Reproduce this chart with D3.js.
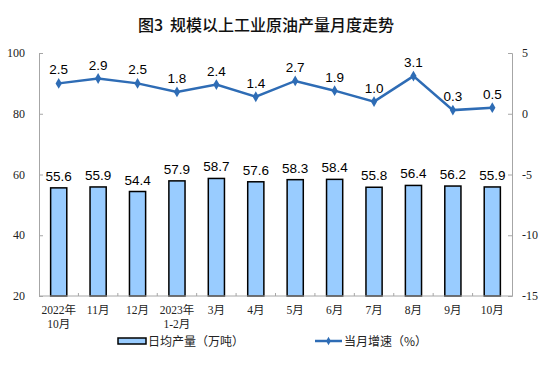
<!DOCTYPE html>
<html>
<head>
<meta charset="utf-8">
<script src="https://cdn.jsdelivr.net/npm/d3@7"></script>
<style>
    body { margin: 0; background: #fff; }
    svg { display: block; }
</style>
</head>
<body>
<div id="chart"></div>
<script>
// categories and values
const categories = [
    ["2022年", "10月"], ["11月"], ["12月"], ["2023年", "1-2月"], ["3月"], ["4月"],
    ["5月"], ["6月"], ["7月"], ["8月"], ["9月"], ["10月"]
];
const daily_output = [55.6, 55.9, 54.4, 57.9, 58.7, 57.6, 58.3, 58.4, 55.8, 56.4, 56.2, 55.9];
const growth_rate = [2.5, 2.9, 2.5, 1.8, 2.4, 1.4, 2.7, 1.9, 1.0, 3.1, 0.3, 0.5];
const left_ticks = [20, 40, 60, 80, 100];
const right_ticks = [-15, -10, -5, 0, 5];

const width = 554, height = 374;
const plot = {left: 39, right: 512, top: 53, bottom: 296};

const line_color = "#2e6cb5";
const bar_color = "#99ccff";
const axis_color = "#a6a6a6";
const cjk = "'Noto Sans CJK SC', sans-serif";

const svg = d3.select("#chart").append("svg")
    .attr("width", width)
    .attr("height", height);

let title = svg.append("text")
    .attr("y", 31)
    .attr("font-family", cjk)
    .attr("font-size", 16)
    .attr("font-weight", 500)
    .attr("fill", "#111");
title.append("tspan").attr("x", 138).text("图3");
title.append("tspan").attr("x", 170).text("规模以上工业原油产量月度走势");

const x = d3.scaleBand()
    .domain(d3.range(categories.length))
    .range([plot.left, plot.right]);

const y_left = d3.scaleLinear().domain([20, 100]).range([plot.bottom, plot.top]);
const y_right = d3.scaleLinear().domain([-15, 5]).range([plot.bottom, plot.top]);

// axes
let left_axis = svg.append("g")
    .attr("transform", "translate(" + plot.left + ",0)")
    .call(d3.axisRight(y_left).tickValues(left_ticks).tickSize(4).tickFormat(""));
let right_axis = svg.append("g")
    .attr("transform", "translate(" + plot.right + ",0)")
    .call(d3.axisLeft(y_right).tickValues(right_ticks).tickSize(4).tickFormat(""));
[left_axis, right_axis].forEach(a => {
    a.selectAll("path, line").attr("stroke", axis_color);
});

svg.append("g").selectAll("text").data(left_ticks).join("text")
    .attr("x", 25)
    .attr("y", d => y_left(d) + 4)
    .attr("text-anchor", "end")
    .attr("font-family", "'Liberation Serif', serif")
    .attr("font-size", 12)
    .attr("fill", "#222")
    .text(d => d);

svg.append("g").selectAll("text").data(right_ticks).join("text")
    .attr("x", 522)
    .attr("y", d => y_right(d) + 4)
    .attr("font-family", "'Liberation Serif', serif")
    .attr("font-size", 12)
    .attr("fill", "#222")
    .text(d => d);

// bars
svg.append("g").selectAll("rect").data(daily_output).join("rect")
    .attr("x", (d, i) => x(i) + x.bandwidth() * 0.295)
    .attr("width", x.bandwidth() * 0.41)
    .attr("y", d => y_left(d))
    .attr("height", d => y_left(20) - y_left(d))
    .attr("fill", bar_color)
    .attr("stroke", "#000")
    .attr("stroke-width", 1.5);

svg.append("g").selectAll("text").data(daily_output).join("text")
    .attr("x", (d, i) => x(i) + x.bandwidth() / 2)
    .attr("y", d => y_left(d) - 7)
    .attr("text-anchor", "middle")
    .attr("font-family", "'Liberation Sans', Arial, sans-serif")
    .attr("font-size", 13.5)
    .attr("fill", "#000")
    .text(d => d.toFixed(1));

// baseline and small ticks between categories
let base = svg.append("g").attr("stroke", axis_color);
base.append("line")
    .attr("x1", plot.left).attr("x2", plot.right)
    .attr("y1", plot.bottom).attr("y2", plot.bottom);
base.selectAll("line.sep").data(d3.range(1, categories.length)).join("line")
    .attr("class", "sep")
    .attr("x1", d => x(d)).attr("x2", d => x(d))
    .attr("y1", plot.bottom).attr("y2", plot.bottom - 3);

// category labels
svg.append("g").selectAll("text").data(categories).join("text")
    .attr("text-anchor", "middle")
    .attr("font-family", "'Liberation Serif', " + cjk)
    .attr("font-size", 11.5)
    .attr("fill", "#222")
    .each(function(d, i) {
        d3.select(this).selectAll("tspan").data(d).join("tspan")
            .attr("x", x(i) + x.bandwidth() / 2)
            .attr("y", (t, j) => 314 + j * 13.5)
            .text(t => t);
    });

// growth line
const line = d3.line()
    .x((d, i) => x(i) + x.bandwidth() / 2)
    .y(d => y_right(d));

svg.append("path")
    .datum(growth_rate)
    .attr("d", line)
    .attr("fill", "none")
    .attr("stroke", line_color)
    .attr("stroke-width", 2.5);

svg.append("g").selectAll("path").data(growth_rate).join("path")
    .attr("transform", (d, i) => "translate(" + (x(i) + x.bandwidth() / 2) + "," + y_right(d) + ")")
    .attr("d", d3.symbol(d3.symbolDiamond, 34))
    .attr("fill", line_color);

svg.append("g").selectAll("text").data(growth_rate).join("text")
    .attr("x", (d, i) => x(i) + x.bandwidth() / 2)
    .attr("y", d => y_right(d) - 9)
    .attr("text-anchor", "middle")
    .attr("font-family", "'Liberation Sans', Arial, sans-serif")
    .attr("font-size", 13.5)
    .attr("fill", "#000")
    .text(d => d.toFixed(1));

// legend
let legend = svg.append("g").attr("font-family", cjk).attr("font-size", 12).attr("fill", "#222");
legend.append("rect")
    .attr("x", 118).attr("y", 338)
    .attr("width", 28).attr("height", 6)
    .attr("fill", bar_color)
    .attr("stroke", "#000")
    .attr("stroke-width", 1.5);
legend.append("text").attr("x", 148).attr("y", 345.5).text("日均产量（万吨）");

legend.append("line")
    .attr("x1", 315).attr("x2", 342)
    .attr("y1", 341).attr("y2", 341)
    .attr("stroke", line_color)
    .attr("stroke-width", 2.5);
legend.append("path")
    .attr("transform", "translate(328.5,341)")
    .attr("d", d3.symbol(d3.symbolDiamond, 20))
    .attr("fill", line_color);
legend.append("text").attr("x", 344).attr("y", 345.5).text("当月增速（%）");
</script>
</body>
</html>
